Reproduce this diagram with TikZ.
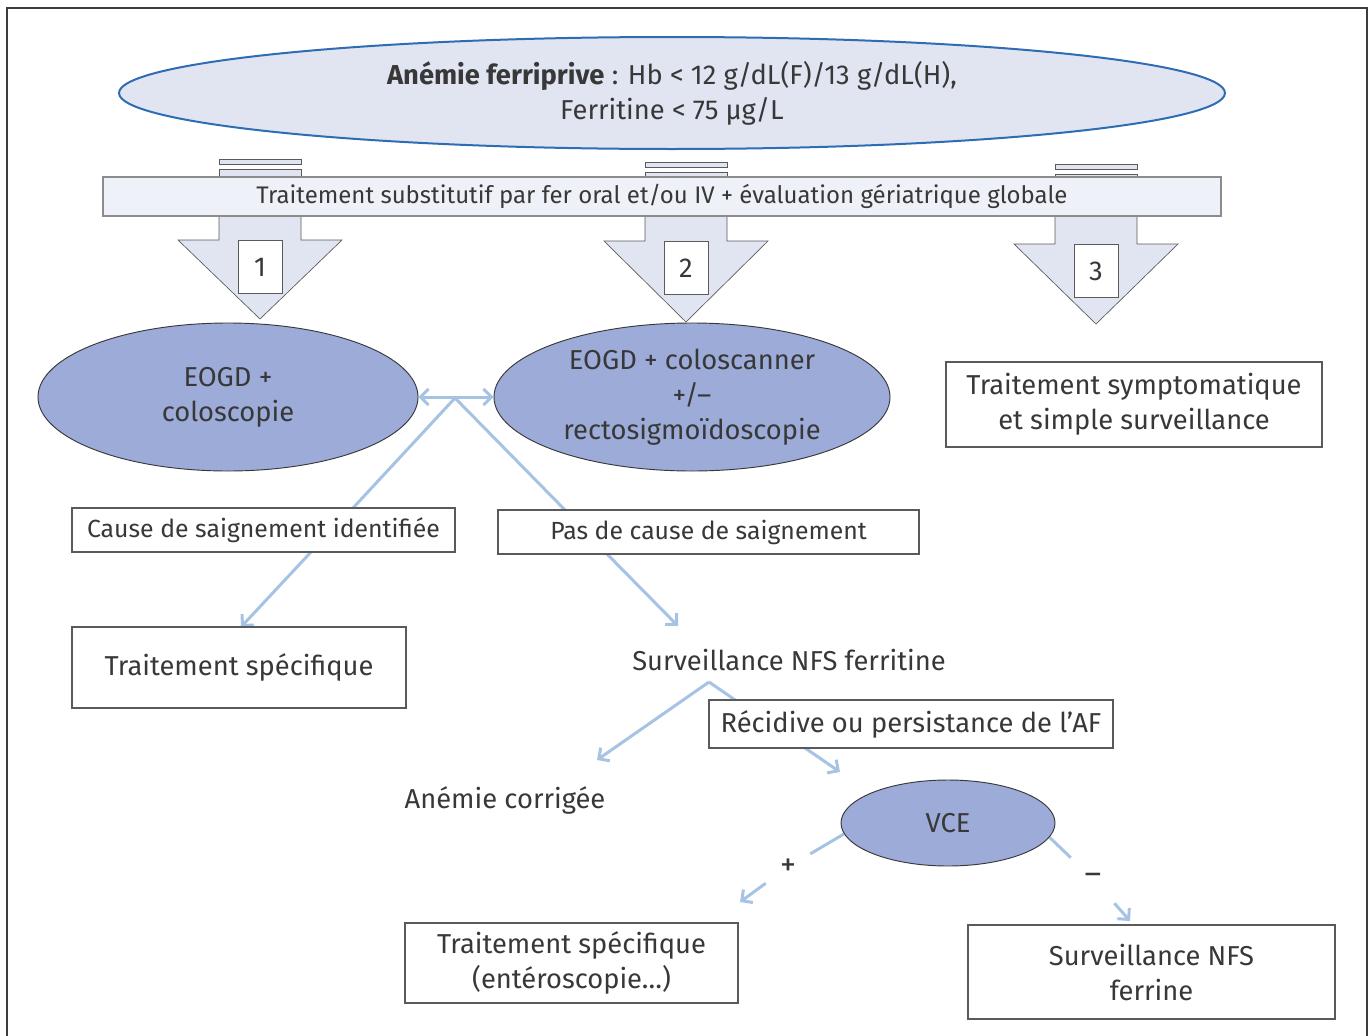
\documentclass[tikz,border=0pt]{standalone}
\usepackage{fontspec}
\setmainfont{Fira Sans}
\usetikzlibrary{arrows.meta, positioning, shapes.geometric, backgrounds, calc}
\definecolor{ink}{HTML}{383838}
\definecolor{framegray}{HTML}{3C3C3C}
\definecolor{headline}{HTML}{2E6DB4}
\definecolor{headfill}{HTML}{E1E5F2}
\definecolor{bandfill}{HTML}{EEF1F8}
\definecolor{bandrule}{HTML}{8C8C8C}
\definecolor{examfill}{HTML}{9CABD8}
\definecolor{linkblue}{HTML}{A6C3E4}
\definecolor{boxrule}{HTML}{5A5A5A}
\tikzset{
  font=\fontsize{20.5}{26.25}\selectfont,
  >={Straight Barb[length=6pt, width=12pt]},
  %
  headell/.style={ellipse, draw=headline, line width=1.5pt, fill=headfill,
    minimum width=829.5pt, minimum height=84pt, inner sep=0pt, align=center,
    text=ink, font=\fontsize{20.5}{26.25}\selectfont},
  band/.style={draw=bandrule, line width=0.8pt, fill=bandfill,
    minimum width=838.5pt, minimum height=29.25pt, inner sep=0pt,
    text=ink, font=\fontsize{18}{20}\selectfont},
  blockarrow/.style={draw=boxrule, line width=0.5pt, fill=headfill},
  numbox/.style={draw=boxrule, line width=0.6pt, fill=white,
    minimum width=33pt, minimum height=39.75pt, inner sep=0pt, text=ink},
  %
  exam/.style={ellipse, draw=ink, line width=0.7pt, fill=examfill,
    minimum width=285pt, minimum height=111pt, inner sep=0pt, align=center,
    text=ink},
  outcome/.style={draw=boxrule, line width=0.8pt, fill=white,
    minimum width=282pt, minimum height=63.75pt, inner sep=0pt, align=center,
    text=ink},
  result/.style={outcome, minimum height=33pt, font=\fontsize{18.6}{22}\selectfont},
  plain/.style={inner sep=2pt, text=ink},
  sign/.style={minimum width=33pt, minimum height=36pt, inner sep=0pt,
    text=ink, font=\fontsize{24}{26}\selectfont},
  %
  link/.style={draw=linkblue, line width=2.25pt},
  frame/.style={draw=framegray, line width=1.2pt},
}
\begin{document}
\begin{tikzpicture}[x=0.75pt, y=-0.75pt]
  \useasboundingbox (0,0) rectangle (1370,1035);
  \draw[frame] (7,1045) -- (7,8) -- (1367,8) -- (1367,1045);

  \node[headell] (anemie) at (672,93)
    {\textbf{Anémie ferriprive} : Hb < 12 g/dL(F)/13 g/dL(H),\\Ferritine < 75 µg/L};

  % the three block arrows, partly under the band
  \foreach \n/\cx/\by/\hy/\ty in {1/260/159/240/319, 2/686/162/241/322, 3/1096/164/244/324} {
    \draw[blockarrow] (\cx-41,\by) rectangle (\cx+41,\by+5);
    \draw[blockarrow] (\cx-41,\by+10) rectangle (\cx+41,177);
    \draw[blockarrow] (\cx-41,177) -- (\cx-41,\hy) -- (\cx-82,\hy) -- (\cx,\ty)
      -- (\cx+82,\hy) -- (\cx+41,\hy) -- (\cx+41,177);
    \node[numbox] (num\n) at (\cx,\hy+27) {\n};
  }

  \node[band] (subst) at (662,196.5)
    {Traitement substitutif par fer oral et/ou IV + évaluation gériatrique globale};

  \node[exam] (eogd) at (228,397) {EOGD +\\coloscopie};
  \node[exam, minimum width=297pt] (scan) at (692,397)
    {EOGD + coloscanner\\+/--\\rectosigmoïdoscopie};
  \node[outcome] (sympt) at (1134,404.5) {Traitement symptomatique\\et simple surveillance};

  \node[result, minimum width=287.25pt] (cause) at (263.5,530) {Cause de saignement identifiée};
  \node[result, minimum width=315.75pt] (nocause) at (708.5,532) {Pas de cause de saignement};
  \node[outcome, minimum width=250.5pt, minimum height=60.75pt] (tspec) at (239,667.5)
    {Traitement spécifique};

  \node[plain] (surv) at (789,660) {Surveillance NFS ferritine};
  \node[outcome, minimum width=303pt, minimum height=36pt] (recid) at (911,724)
    {Récidive ou persistance de l’AF};
  \node[plain] (corr) at (505,800) {Anémie corrigée};

  \node[exam, minimum width=160.5pt, minimum height=64.5pt] (vce) at (948,823) {VCE};
  \node[sign] (plus) at (788,867) {+};
  \node[sign] (minus) at (1093,879) {--};

  \node[outcome, minimum width=249.75pt, minimum height=60pt] (entero) at (571.5,963)
    {Traitement spécifique\\(entéroscopie…)};
  \node[outcome, minimum width=275.25pt, minimum height=70.5pt] (survf) at (1151.5,972)
    {Surveillance NFS\\ferrine};

  % free ends of the connectors
  \coordinate (fork) at (455,398);
  \coordinate (causein) at (353,508);
  \coordinate (nocausein) at (565,510);
  \coordinate (causeout) at (311,552);
  \coordinate (tspecin) at (241,627);
  \coordinate (nocauseout) at (607,554);
  \coordinate (survin) at (678,626);
  \coordinate (survout) at (709,682);
  \coordinate (corrin) at (597,760);
  \coordinate (vcein) at (840,772);
  \coordinate (enteroin) at (740,902);
  \coordinate (survfin) at (1130,921);

  \begin{scope}[on background layer]
    \draw[link, <->] (eogd.east) -- (scan.west);
    \draw[link] (causein) -- (fork) -- (nocausein);
    \draw[link, ->] (causeout) -- (tspecin);
    \draw[link, ->] (nocauseout) -- (survin);
    \draw[link, ->] (survout) -- (corrin);
    \draw[link, ->] (survout) -- (vcein);
    \draw[link] (vce.186) -- (plus);
    \draw[link, ->] (plus) -- (enteroin);
    \draw[link] (vce.352) -- (minus);
    \draw[link, ->] (minus) -- (survfin);
  \end{scope}
\end{tikzpicture}
\end{document}
